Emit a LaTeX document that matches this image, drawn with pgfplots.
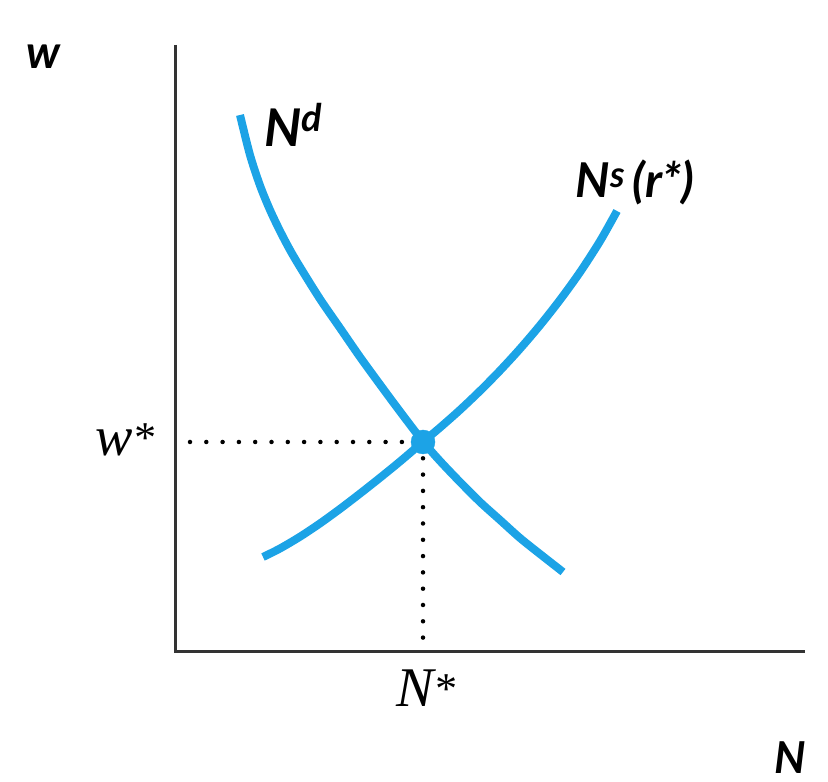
\documentclass[border=0pt]{standalone}
\usepackage{pgfplots}
\pgfplotsset{compat=1.18}
\usepackage{fontspec}
\setmainfont{Liberation Serif}
\newfontfamily\lab{Lato}
\definecolor{cblue}{HTML}{1CA3E6}
\definecolor{axgray}{HTML}{333333}
\begin{document}
\begin{tikzpicture}
\begin{axis}[
  width=828pt, height=782pt, scale only axis,
  xmin=0, xmax=828, ymin=0, ymax=782,
  hide axis, clip=false,
]
% canvas
\addplot[draw=none, forget plot] coordinates {(0,0) (828,782)};
% axes
\addplot[axgray, line width=3pt] coordinates {(175,737) (175,130) (805,130)};
% dotted guides
\addplot[black, line width=4.5pt, line cap=round, dash pattern=on 0pt off 16.3pt] coordinates {(190,340) (423,340)};
\addplot[black, line width=4.5pt, line cap=round, dash pattern=on 0pt off 16.3pt] coordinates {(423,340) (423,130)};
% Nd
\addplot[cblue, line width=8pt, smooth, tension=0.5] coordinates {
(240,667) (250,627) (260,596.5) (270,572) (280,551) (290,532) (300,515) (320,483) (340,454) (360,425) (380,397.5) (400,370.5) (423,340.5) (440,321) (460,300) (480,280) (500,262) (520,244) (540,228) (563,210)};
% Ns
\addplot[cblue, line width=8pt, smooth, tension=0.5] coordinates {
(263,225) (280,233.5) (300,245.3) (320,258.6) (340,273.1) (360,288.4) (380,304.2) (400,320.5) (423,340.1) (440,354.4) (460,372.1) (480,391.1) (500,411.4) (520,433.2) (540,456.7) (560,482.1) (580,509.8) (600,540.8) (617,571)};
% equilibrium dot
\addplot[only marks, mark=*, mark size=12pt, cblue] coordinates {(423,340)};
% labels
\node[font=\lab\bfseries\itshape\fontsize{46}{46}\selectfont] at (axis cs:43,725) {w};
\node[font=\lab\bfseries\itshape\fontsize{44}{44}\selectfont] at (axis cs:790,24) {N};
\node[font=\lab\bfseries\itshape\fontsize{52}{52}\selectfont] at (axis cs:293,657) {N\raisebox{0.3em}{\fontsize{38}{38}\selectfont d}};
\node[font=\lab\bfseries\itshape\fontsize{48}{48}\selectfont] at (axis cs:635,600) {N\raisebox{0.2em}{\fontsize{36}{36}\selectfont s}\,(r*)};
\node[font=\itshape\fontsize{56}{56}\selectfont] at (axis cs:125,342) {w\raisebox{0.05em}{\fontsize{44}{44}\selectfont *}};
\node[font=\itshape\fontsize{56}{56}\selectfont] at (axis cs:426,94) {N\raisebox{0.05em}{\fontsize{44}{44}\selectfont *}};
\end{axis}
\end{tikzpicture}
\end{document}
